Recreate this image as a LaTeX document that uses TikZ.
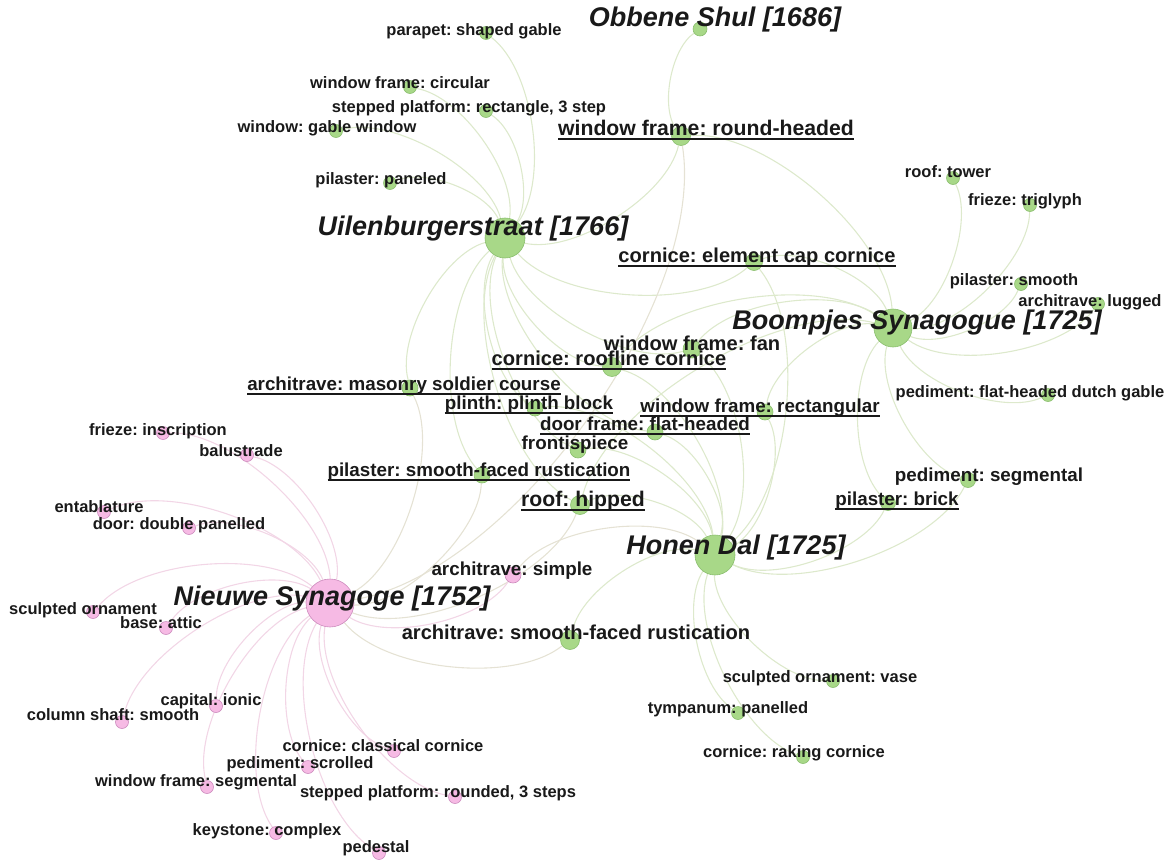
\documentclass[tikz,border=0pt]{standalone}
\usepackage{fontspec}
\setmainfont{Liberation Sans}
\usetikzlibrary{backgrounds}
\definecolor{gfill}{RGB}{168,216,136}
\definecolor{gline}{RGB}{138,190,110}
\definecolor{pfill}{RGB}{246,186,228}
\definecolor{pline}{RGB}{205,140,190}
\definecolor{gedge}{RGB}{221,233,204}
\definecolor{pedge}{RGB}{242,214,230}
\definecolor{medge}{RGB}{229,226,212}
\newcommand{\ulbl}[1]{\setbox0=\hbox{#1}\rlap{\rule[-0.2em]{\wd0}{0.085em}}\box0}
\frenchspacing

\begin{document}
\begin{tikzpicture}[x=1pt, y=-1pt,
    gnode/.style={circle, draw=gline, fill=gfill, line width=0.6pt, inner sep=0pt},
    pnode/.style={circle, draw=pline, fill=pfill, line width=0.6pt, inner sep=0pt},
    lbl/.style={inner sep=0pt, text height=0.75em, text depth=0.2em, text=black!90},
    l16/.style={lbl, font=\bfseries\fontsize{16.5}{18}\selectfont},
    l19/.style={lbl, font=\bfseries\fontsize{18.8}{20}\selectfont},
    l20/.style={lbl, font=\bfseries\fontsize{20.1}{22}\selectfont},
    l21/.style={lbl, font=\bfseries\fontsize{21.2}{23}\selectfont},
    syn/.style={lbl, font=\bfseries\itshape\fontsize{27}{29}\selectfont},
    link/.style={line width=1.1pt, bend right=45, looseness=0.72},
    glink/.style={link, draw=gedge},
    plink/.style={link, draw=pedge},
    mlink/.style={link, draw=medge}]
    \useasboundingbox (0,0) rectangle (1169,861);

    % synagogues
    \node[gnode, minimum size=14] (obbene) at (700,29) {};
    \node[gnode, minimum size=40] (uilen) at (505,238) {};
    \node[gnode, minimum size=38] (boomp) at (893,328) {};
    \node[gnode, minimum size=40] (honen) at (715,555) {};
    \node[pnode, minimum size=48] (nieuwe) at (330,603) {};

    % features, green
    \node[gnode, minimum size=13] (parapet) at (486,33) {};
    \node[gnode, minimum size=13] (wfcirc) at (410,87) {};
    \node[gnode, minimum size=13] (steprect) at (486,111) {};
    \node[gnode, minimum size=13] (gablewin) at (336,131) {};
    \node[gnode, minimum size=13] (pilpanel) at (390,183) {};
    \node[gnode, minimum size=19] (wfround) at (681,136) {};
    \node[gnode, minimum size=17] (corelem) at (754,262) {};
    \node[gnode, minimum size=13] (tower) at (953,178) {};
    \node[gnode, minimum size=13] (triglyph) at (1030,205) {};
    \node[gnode, minimum size=13] (pilsmooth) at (1021,284) {};
    \node[gnode, minimum size=13] (lugged) at (1098,304) {};
    \node[gnode, minimum size=13] (dutch) at (1048,395) {};
    \node[gnode, minimum size=18] (wffan) at (692,349) {};
    \node[gnode, minimum size=19] (roofline) at (612,367) {};
    \node[gnode, minimum size=16] (masonry) at (410,388) {};
    \node[gnode, minimum size=16] (plinth) at (535,408) {};
    \node[gnode, minimum size=16] (wfrect) at (765,412) {};
    \node[gnode, minimum size=16] (doorflat) at (655,432) {};
    \node[gnode, minimum size=16] (frontis) at (578,450) {};
    \node[gnode, minimum size=16] (pilsfr) at (482,475) {};
    \node[gnode, minimum size=19] (roofhip) at (580,505) {};
    \node[gnode, minimum size=15] (pedseg) at (968,480) {};
    \node[gnode, minimum size=15] (pilbrick) at (888,503) {};
    \node[gnode, minimum size=19] (archsfr) at (570,640) {};
    \node[gnode, minimum size=13] (vase) at (833,681) {};
    \node[gnode, minimum size=13] (tympanum) at (738,713) {};
    \node[gnode, minimum size=13] (raking) at (803,757) {};

    % features, pink
    \node[pnode, minimum size=16] (archsimple) at (513,575) {};
    \node[pnode, minimum size=13] (inscript) at (163,433) {};
    \node[pnode, minimum size=13] (balus) at (247,455) {};
    \node[pnode, minimum size=13] (entab) at (104,512) {};
    \node[pnode, minimum size=13] (dbldoor) at (189,528) {};
    \node[pnode, minimum size=13] (sculpt) at (93,612) {};
    \node[pnode, minimum size=13] (attic) at (166,628) {};
    \node[pnode, minimum size=13] (ionic) at (216,706) {};
    \node[pnode, minimum size=13] (shaft) at (122,722) {};
    \node[pnode, minimum size=13] (classic) at (394,751) {};
    \node[pnode, minimum size=13] (scrolled) at (308,767) {};
    \node[pnode, minimum size=13] (segm) at (207,787) {};
    \node[pnode, minimum size=13] (rounded) at (455,797) {};
    \node[pnode, minimum size=13] (keystone) at (276,833) {};
    \node[pnode, minimum size=13] (pedestal) at (379,853) {};

    % labels
    \node[syn] (t-obbene) at (715,24) {Obbene Shul [1686]};
    \node[syn] (t-uilen) at (473,233) {Uilenburgerstraat [1766]};
    \node[syn] (t-boomp) at (917,327) {Boompjes Synagogue [1725]};
    \node[syn] (t-honen) at (736,552) {Honen Dal [1725]};
    \node[syn] (t-nieuwe) at (332,603) {Nieuwe Synagoge [1752]};

    \node[l16] (t-parapet) at (474,33) {parapet: shaped gable};
    \node[l16] (t-wfcirc) at (400,86) {window frame: circular};
    \node[l16] (t-steprect) at (469,110) {stepped platform: rectangle, 3 step};
    \node[l16] (t-gablewin) at (327,130) {window: gable window};
    \node[l16] (t-pilpanel) at (381,182) {pilaster: paneled};
    \node[l21] (t-wfround) at (706,133) {\ulbl{window frame: round-headed}};
    \node[l20] (t-corelem) at (757,260) {\ulbl{cornice: element cap cornice}};
    \node[l16] (t-tower) at (948,175) {roof: tower};
    \node[l16] (t-triglyph) at (1025,203) {frieze: triglyph};
    \node[l16] (t-pilsmooth) at (1014,283) {pilaster: smooth};
    \node[l16] (t-lugged) at (1090,304) {architrave: lugged};
    \node[l16] (t-dutch) at (1030,395) {pediment: flat-headed dutch gable};
    \node[l20] (t-wffan) at (692,348) {window frame: fan};
    \node[l20] (t-roofline) at (609,363) {\ulbl{cornice: roofline cornice}};
    \node[l19] (t-masonry) at (404,388) {\ulbl{architrave: masonry soldier course}};
    \node[l19] (t-plinth) at (529,407) {\ulbl{plinth: plinth block}};
    \node[l19] (t-wfrect) at (760,410) {\ulbl{window frame: rectangular}};
    \node[l19] (t-doorflat) at (645,428) {\ulbl{door frame: flat-headed}};
    \node[l19] (t-frontis) at (575,447) {frontispiece};
    \node[l19] (t-pilsfr) at (479,474) {\ulbl{pilaster: smooth-faced rustication}};
    \node[l21] (t-roofhip) at (583,504) {\ulbl{roof: hipped}};
    \node[l19] (t-pedseg) at (989,479) {pediment: segmental};
    \node[l19] (t-pilbrick) at (897,503) {\ulbl{pilaster: brick}};
    \node[l20] (t-archsfr) at (576,637) {architrave: smooth-faced rustication};
    \node[l16] (t-vase) at (820,680) {sculpted ornament: vase};
    \node[l16] (t-tympanum) at (728,711) {tympanum: panelled};
    \node[l16] (t-raking) at (794,755) {cornice: raking cornice};

    \node[l19] (t-archsimple) at (512,573) {architrave: simple};
    \node[l16] (t-inscript) at (158,433) {frieze: inscription};
    \node[l16] (t-balus) at (241,454) {balustrade};
    \node[l16] (t-entab) at (99,510) {entablature};
    \node[l16] (t-dbldoor) at (179,527) {door: double panelled};
    \node[l16] (t-sculpt) at (83,612) {sculpted ornament};
    \node[l16] (t-attic) at (161,626) {base: attic};
    \node[l16] (t-ionic) at (211,703) {capital: ionic};
    \node[l16] (t-shaft) at (113,718) {column shaft: smooth};
    \node[l16] (t-classic) at (383,749) {cornice: classical cornice};
    \node[l16] (t-scrolled) at (300,766) {pediment: scrolled};
    \node[l16] (t-segm) at (196,784) {window frame: segmental};
    \node[l16] (t-rounded) at (438,795) {stepped platform: rounded, 3 steps};
    \node[l16] (t-keystone) at (267,833) {keystone: complex};
    \node[l16] (t-pedestal) at (376,850) {pedestal};

    \begin{scope}[on background layer]
        \draw[glink] (obbene) to (wfround);

        \draw[glink] (uilen) to (parapet);
        \draw[glink] (uilen) to (wfcirc);
        \draw[glink] (uilen) to (steprect);
        \draw[glink] (uilen) to (gablewin);
        \draw[glink] (uilen) to (pilpanel);
        \draw[glink] (uilen) to (wfround);
        \draw[glink] (uilen) to (corelem);
        \draw[glink] (uilen) to (roofline);
        \draw[glink] (uilen) to (wffan);
        \draw[glink] (uilen) to (masonry);
        \draw[glink] (uilen) to (plinth);
        \draw[glink] (uilen) to (doorflat);
        \draw[glink] (uilen) to (frontis);
        \draw[glink] (uilen) to (pilsfr);
        \draw[glink] (uilen) to (roofhip);

        \draw[glink] (boomp) to (wfround);
        \draw[glink] (boomp) to (corelem);
        \draw[glink] (boomp) to (roofline);
        \draw[glink] (boomp) to (wffan);
        \draw[glink] (boomp) to (tower);
        \draw[glink] (boomp) to (triglyph);
        \draw[glink] (boomp) to (pilsmooth);
        \draw[glink] (boomp) to (lugged);
        \draw[glink] (boomp) to (dutch);
        \draw[glink] (boomp) to (wfrect);
        \draw[glink] (boomp) to (pedseg);
        \draw[glink] (boomp) to (pilbrick);
        \draw[glink] (boomp) to (roofhip);

        \draw[glink] (honen) to (corelem);
        \draw[glink] (honen) to (roofline);
        \draw[glink] (honen) to (wffan);
        \draw[glink] (honen) to (wfrect);
        \draw[glink] (honen) to (plinth);
        \draw[glink] (honen) to (doorflat);
        \draw[glink] (honen) to (frontis);
        \draw[glink] (honen) to (roofhip);
        \draw[glink] (honen) to (pedseg);
        \draw[glink] (honen) to (pilbrick);
        \draw[glink] (honen) to (archsfr);
        \draw[glink] (honen) to (vase);
        \draw[glink] (honen) to (tympanum);
        \draw[glink] (honen) to (raking);
        \draw[mlink] (honen) to (archsimple);

        \draw[mlink] (nieuwe) to (wfround);
        \draw[mlink] (nieuwe) to (masonry);
        \draw[mlink] (nieuwe) to (pilsfr);
        \draw[mlink] (nieuwe) to (roofhip);
        \draw[mlink] (nieuwe) to (archsfr);
        \draw[plink] (nieuwe) to (archsimple);
        \draw[plink] (nieuwe) to (inscript);
        \draw[plink] (nieuwe) to (balus);
        \draw[plink] (nieuwe) to (entab);
        \draw[plink] (nieuwe) to (dbldoor);
        \draw[plink] (nieuwe) to (sculpt);
        \draw[plink] (nieuwe) to (attic);
        \draw[plink] (nieuwe) to (ionic);
        \draw[plink] (nieuwe) to (shaft);
        \draw[plink] (nieuwe) to (classic);
        \draw[plink] (nieuwe) to (scrolled);
        \draw[plink] (nieuwe) to (segm);
        \draw[plink] (nieuwe) to (rounded);
        \draw[plink] (nieuwe) to (keystone);
        \draw[plink] (nieuwe) to (pedestal);
    \end{scope}
\end{tikzpicture}
\end{document}
